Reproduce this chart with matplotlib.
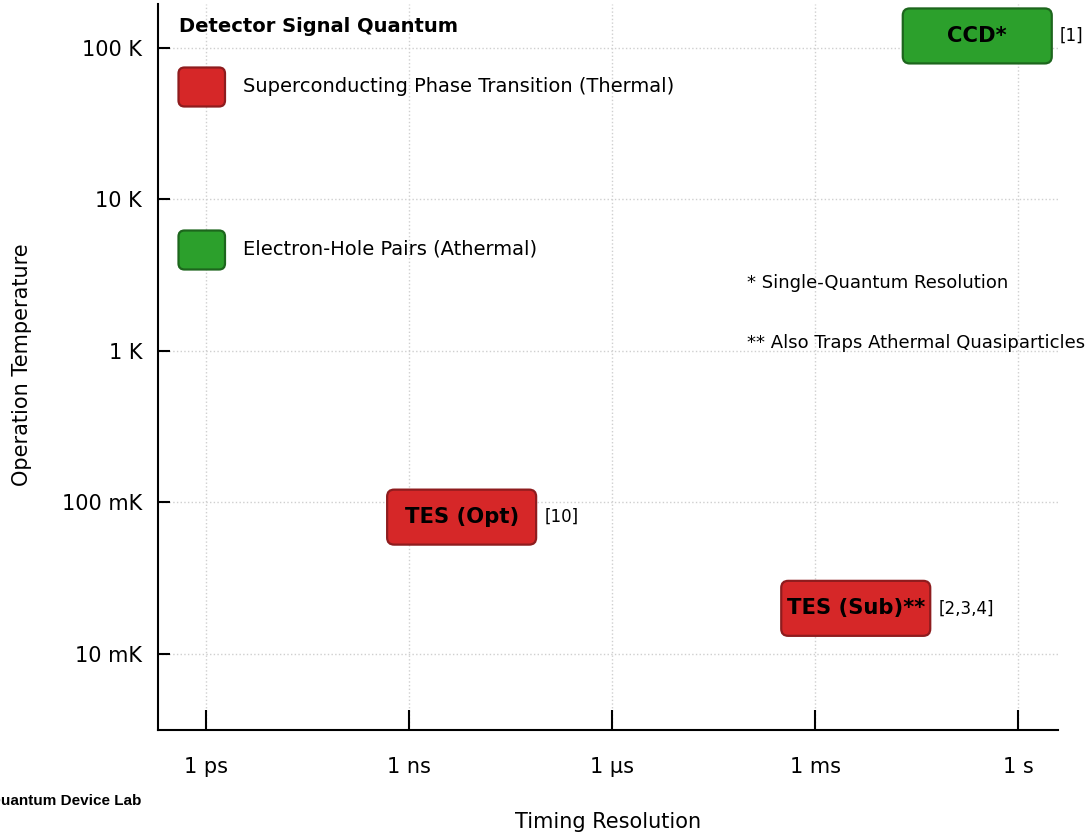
import matplotlib
matplotlib.use("Agg")
import matplotlib.pyplot as plt
from matplotlib.patches import FancyBboxPatch
from matplotlib.transforms import ScaledTranslation
from matplotlib.ticker import FixedLocator, FixedFormatter, NullLocator

# Detectors: timing resolution (s), operating temperature (K)
detectors = ["TES (Opt)", "TES (Sub)**", "CCD*"]
timing_s = [6e-9, 4e-3, 0.25]
temperature_K = [0.08, 0.02, 120]
quantum = ["thermal", "thermal", "athermal"]
refs = ["[10]", "[2,3,4]", "[1]"]

x_ticks = [1e-12, 1e-9, 1e-6, 1e-3, 1]
x_tick_labels = ["1 ps", "1 ns", "1 µs", "1 ms", "1 s"]
y_ticks = [1e-2, 1e-1, 1, 10, 100]
y_tick_labels = ["10 mK", "100 mK", "1 K", "10 K", "100 K"]

quantum_kinds = ["thermal", "athermal"]
quantum_labels = ["Superconducting Phase Transition (Thermal)",
                  "Electron-Hole Pairs (Athermal)"]
fill_colors = {"thermal": "#d62728", "athermal": "#2ca02c"}
edge_colors = {"thermal": "#8e1c1e", "athermal": "#1d661d"}

notes = ["* Single-Quantum Resolution", "** Also Traps Athermal Quasiparticles"]

W, H = 1086, 832
fig = plt.figure(figsize=(W / 100, H / 100), dpi=100)
ax = fig.add_axes([158 / W, 1 - 730 / H, 900 / W, 726 / H])

ax.set_xscale("log")
ax.set_yscale("log")
ax.set_xlim(10 ** -12.709, 10 ** 0.591)
ax.set_ylim(10 ** -2.502, 10 ** 2.29)

ax.xaxis.set_major_locator(FixedLocator(x_ticks))
ax.xaxis.set_major_formatter(FixedFormatter(x_tick_labels))
ax.xaxis.set_minor_locator(NullLocator())
ax.yaxis.set_major_locator(FixedLocator(y_ticks))
ax.yaxis.set_major_formatter(FixedFormatter(y_tick_labels))
ax.yaxis.set_minor_locator(NullLocator())

for side in ("top", "right"):
    ax.spines[side].set_visible(False)
for side in ("left", "bottom"):
    ax.spines[side].set_linewidth(1.5)

ax.tick_params(axis="x", direction="in", length=14.4, width=1.5, pad=19.5,
               labelsize=15)
ax.tick_params(axis="y", direction="in", length=8.6, width=1.5, pad=11.5,
               labelsize=15)
ax.grid(True, which="major", linestyle=":", color="#cfcfcf", linewidth=1)

ax.set_xlabel("Timing Resolution", fontsize=15)
ax.set_ylabel("Operation Temperature", fontsize=15)
ax.xaxis.set_label_coords(0.5, -0.113)
ax.yaxis.set_label_coords(-0.14, 0.503)

# Fixed-size rounded boxes centred on each detector's operating point
half_w, half_h = 0.745, 0.275  # inches
for name, t, T, kind, ref in zip(detectors, timing_s, temperature_K, quantum, refs):
    trans = fig.dpi_scale_trans + ScaledTranslation(t, T, ax.transData)
    box = FancyBboxPatch((-half_w, -half_h), 2 * half_w, 2 * half_h,
                         boxstyle="round,pad=0,rounding_size=0.07",
                         facecolor=fill_colors[kind], edgecolor=edge_colors[kind],
                         linewidth=1.6, transform=trans, zorder=3, clip_on=False)
    ax.add_patch(box)
    ax.text(t, T, name, ha="center", va="center", fontsize=15.2,
            fontweight="bold", zorder=4)
    ax.annotate(ref, xy=(t, T), xytext=((half_w + 0.08) * 72, 0),
                textcoords="offset points", ha="left", va="center",
                fontsize=12, zorder=4)

# Legend for the signal quantum
fig.text(179 / W, 1 - 26 / H, "Detector Signal Quantum", fontsize=14,
         fontweight="bold", ha="left", va="center")
legend_rows_y = [87, 250]
for kind, label, yc in zip(quantum_kinds, quantum_labels, legend_rows_y):
    sq = FancyBboxPatch((1.785, (H - yc) / 100 - 0.195), 0.465, 0.39,
                        boxstyle="round,pad=0,rounding_size=0.06",
                        facecolor=fill_colors[kind], edgecolor=edge_colors[kind],
                        linewidth=1.6, transform=fig.dpi_scale_trans)
    fig.add_artist(sq)
    fig.text(243 / W, 1 - (yc - 1) / H, label, fontsize=14, ha="left", va="center")

for note, yc in zip(notes, [283, 343]):
    fig.text(747 / W, 1 - yc / H, note, fontsize=13, ha="left", va="center")

fig.text(-11 / W, 1 - 801 / H, "Quantum Device Lab", fontsize=11,
         fontweight="bold", family="Liberation Sans", ha="left", va="center")

fig.savefig("out.png", dpi=100)
